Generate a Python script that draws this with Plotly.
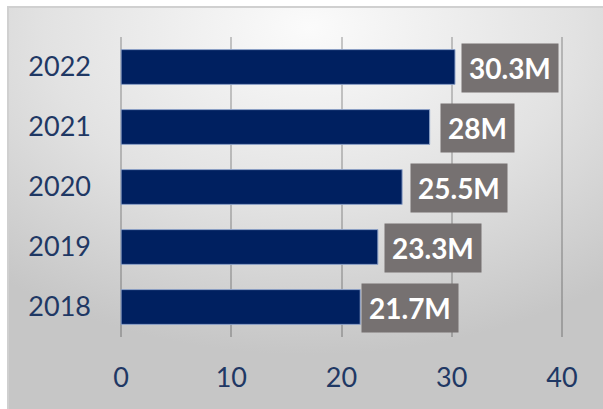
import base64
import plotly.graph_objects as go

# ---- data ----
years = ["2018", "2019", "2020", "2021", "2022"]
values = [21.7, 23.3, 25.5, 28.0, 30.3]
labels = ["21.7M", "23.3M", "25.5M", "28M", "30.3M"]
x_ticks = [0, 10, 20, 30, 40]
label_nudge_px = [1, 6, 8, 10, 6]   # manual label offsets seen in the reference

W, H = 603, 409
XPAD = 0.1
ML, MR, MT, MB = 120, 40, 37, 72
PW, PH = W - ML - MR, H - MT - MB

svg = f'''<svg xmlns="http://www.w3.org/2000/svg" width="{W}" height="{H}" viewBox="0 0 {W} {H}" preserveAspectRatio="none">
<defs><radialGradient id="g" cx="0.5" cy="0.05" r="0.8" fx="0.5" fy="0.05">
<stop offset="0" stop-color="#fbfbfb"/><stop offset="0.55" stop-color="#e2e2e2"/><stop offset="1" stop-color="#c6c6c6"/>
</radialGradient></defs>
<rect x="0" y="0" width="{W}" height="{H}" fill="#ffffff"/>
<rect x="8" y="7" width="{W}" height="{H}" fill="url(#g)" stroke="#d0d0d0" stroke-width="2"/>
</svg>'''
src = "data:image/svg+xml;base64," + base64.b64encode(svg.encode()).decode()

fig = go.Figure()
fig.add_trace(go.Bar(
    x=values, y=years, orientation="h",
    marker=dict(color="#002060", line=dict(color="#8fa3c8", width=1)),
    width=0.58, hoverinfo="skip",
))

for i, (v, lab, nd) in enumerate(zip(values, labels, label_nudge_px)):
    fig.add_annotation(
        x=v, y=i, xref="x", yref="y", text=f"<b>{lab}</b>", showarrow=False,
        xanchor="left", yanchor="middle", xshift=nd, yshift=-1,
        bgcolor="#767171", borderpad=7,
        font=dict(family="Lato", size=28, color="#ffffff"),
    )

fig.update_layout(
    width=W, height=H,
    margin=dict(l=ML, r=MR, t=MT, b=MB, pad=0),
    paper_bgcolor="#ffffff", plot_bgcolor="rgba(0,0,0,0)",
    showlegend=False,
    images=[dict(source=src, xref="paper", yref="paper",
                 x=-ML / PW, y=1 + MT / PH, sizex=W / PW, sizey=H / PH,
                 xanchor="left", yanchor="top", sizing="stretch", layer="below")],
    xaxis=dict(range=[-XPAD, 40 + XPAD], tickvals=x_ticks, ticktext=[str(t) for t in x_ticks],
               showgrid=True, gridcolor="rgba(0,0,0,0.2)", gridwidth=1.5,
               zeroline=False, showline=False, ticks="",
               ticklabelstandoff=22,
               tickfont=dict(family="Lato", size=27, color="#1f3864")),
    yaxis=dict(type="category", categoryorder="array", categoryarray=years,
               range=[-0.5, 4.5], showgrid=False, zeroline=False, showline=False,
               ticks="", ticklabelstandoff=28,
               tickfont=dict(family="Lato", size=27, color="#1f3864")),
)

fig.write_html("out.html")
